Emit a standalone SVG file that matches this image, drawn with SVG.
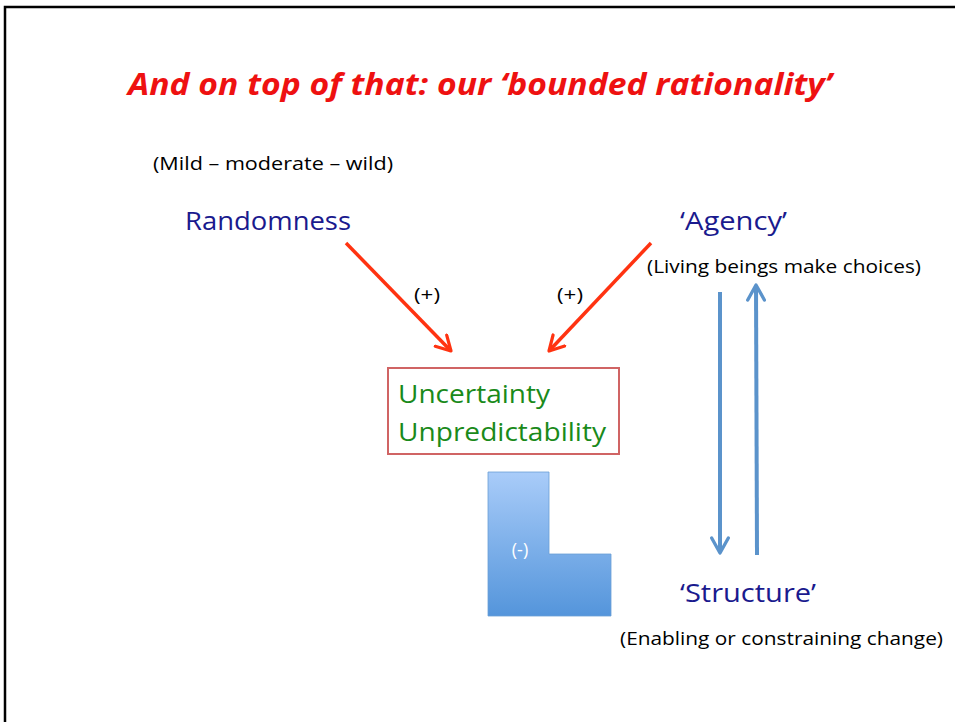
<svg xmlns="http://www.w3.org/2000/svg" width="955" height="722" viewBox="0 0 955 722">
<style>
.t{font-family:"Open Sans","Noto Sans","Liberation Sans",sans-serif}
.navy{fill:#1a1a8e;font-size:25px}
.blk{fill:#000;font-size:18px}
.grn{fill:#1a8a1a;font-size:25px}
</style>
<defs>
<marker id="redHead" viewBox="0 0 12 12" refX="10" refY="6" markerWidth="5.5" markerHeight="5.5" orient="auto" markerUnits="strokeWidth">
<path d="M1,1 L10,6 L1,11" fill="none" stroke="#ff3311" stroke-width="2" stroke-linecap="round" stroke-linejoin="round"/>
</marker>
<marker id="blueHead" viewBox="0 0 12 12" refX="10" refY="6" markerWidth="5" markerHeight="5" orient="auto" markerUnits="strokeWidth">
<path d="M1,1 L10,6 L1,11" fill="none" stroke="#5b93cb" stroke-width="2" stroke-linecap="round" stroke-linejoin="round"/>
</marker>
<linearGradient id="lg" x1="0" y1="0" x2="0" y2="1">
<stop offset="0" stop-color="#a9ccf9"/>
<stop offset="1" stop-color="#5495db"/>
</linearGradient>
</defs>
<rect width="955" height="722" fill="#fff"/>
<path d="M5,722 L5,7 L955,7" fill="none" stroke="#000" stroke-width="2.5"/>
<text class="t" x="128" y="95" font-size="30" font-weight="bold" font-style="italic" fill="#ee1111" textLength="704" lengthAdjust="spacingAndGlyphs">And on top of that: our ‘bounded rationality’</text>
<g id="mild"><text class="t blk" x="153" y="170" textLength="240" lengthAdjust="spacingAndGlyphs">(Mild – moderate – wild)</text></g>
<g id="randomness"><text class="t navy" x="185" y="230" textLength="166" lengthAdjust="spacingAndGlyphs">Randomness</text></g>
<g id="agency"><text class="t navy" x="680" y="230" textLength="107" lengthAdjust="spacingAndGlyphs">‘Agency’</text>
<text class="t blk" x="647" y="273" textLength="274" lengthAdjust="spacingAndGlyphs">(Living beings make choices)</text></g>
<g id="uncertainty">
<rect x="388" y="368" width="231" height="86" fill="#fff" stroke="#d06464" stroke-width="2"/>
<text class="t grn" x="398" y="403" textLength="152" lengthAdjust="spacingAndGlyphs">Uncertainty</text>
<text class="t grn" x="398" y="441" textLength="208" lengthAdjust="spacingAndGlyphs">Unpredictability</text>
</g>
<g id="minus">
<path d="M488,472 L549,472 L549,554 L611,554 L611,616 L488,616 Z" fill="url(#lg)" stroke="#6b9fd6" stroke-width="0.8"/>
<text class="t" x="520" y="556" font-size="18" fill="#fff" text-anchor="middle">(-)</text>
</g>
<g id="structure"><text class="t navy" x="680" y="602" textLength="136" lengthAdjust="spacingAndGlyphs">‘Structure’</text>
<text class="t blk" x="620" y="645" textLength="323" lengthAdjust="spacingAndGlyphs">(Enabling or constraining change)</text></g>
<g id="connectors">
<line x1="346" y1="243" x2="451" y2="351" stroke="#ff3311" stroke-width="3.5" marker-end="url(#redHead)"/>
<line x1="651" y1="243" x2="549" y2="351" stroke="#ff3311" stroke-width="3.5" marker-end="url(#redHead)"/>
<text class="t blk" x="414" y="301" font-size="19" textLength="26" lengthAdjust="spacingAndGlyphs">(+)</text>
<text class="t blk" x="557" y="301" font-size="19" textLength="26" lengthAdjust="spacingAndGlyphs">(+)</text>
<line x1="720" y1="292" x2="720" y2="553" stroke="#5b93cb" stroke-width="4" marker-end="url(#blueHead)"/>
<line x1="757" y1="555" x2="756" y2="285" stroke="#5b93cb" stroke-width="4" marker-end="url(#blueHead)"/>
</g>
</svg>
